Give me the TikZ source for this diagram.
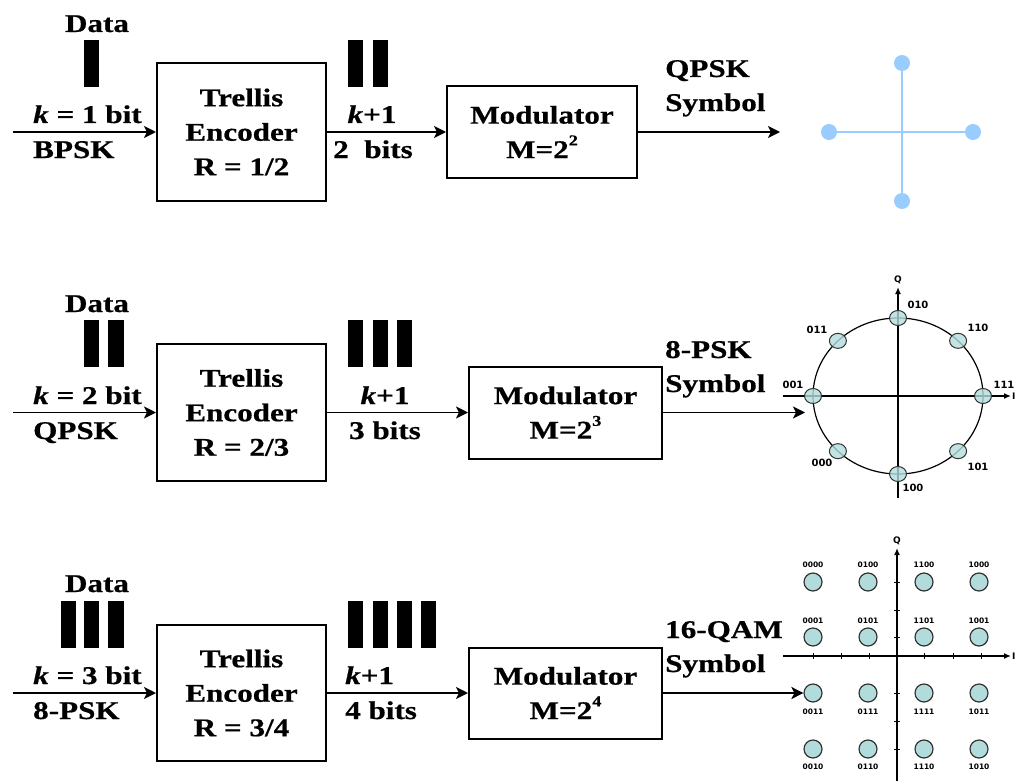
\documentclass[tikz,border=0pt]{standalone}
\usepackage{fontspec}
\setmainfont{Liberation Serif}[FakeStretch=1.22,FakeBold=0.6]
\newfontfamily\lblfont{DejaVu Sans}
\usetikzlibrary{arrows.meta}
\definecolor{qpskblue}{RGB}{153,204,255}
\definecolor{ptfill}{RGB}{178,220,220}
\definecolor{ptline}{RGB}{50,50,50}
\newcommand{\supx}[1]{\raisebox{0.5em}{\fontsize{15}{15}\selectfont #1}}
\begin{document}
\begin{tikzpicture}[x=1pt,y=-1pt,
  every node/.style={font=\bfseries\fontsize{25.5}{34.5}\selectfont, inner sep=0pt},
  box/.style={draw, line width=2pt, align=center},
  arr/.style={line width=1.9pt, -{Stealth[length=12pt,width=12pt,inset=3pt]}},
  lbl/.style={anchor=base west},
  ctr/.style={anchor=base},
  axis/.style={line width=1.5pt, -{Latex[length=7pt,width=6pt]}},
  psklbl/.style={font=\lblfont\bfseries\fontsize{10}{10}\selectfont},
  qamlbl/.style={font=\lblfont\bfseries\fontsize{7.5}{7.5}\selectfont},
  axlbl/.style={font=\lblfont\bfseries\fontsize{9}{9}\selectfont},
  qpt/.style={circle, draw=ptline, fill=ptfill, line width=1.2pt, minimum size=18pt, inner sep=0pt}
]
\useasboundingbox (0,0) rectangle (1019,781);

% ---------------- Row 1 ----------------
\node[ctr] (d1) at (97,32) {Data};
\fill (84,40) rectangle (99,87);
\node[box, minimum width=169pt, minimum height=138pt] (enc1) at (241.5,132) {Trellis\\Encoder\\R = 1/2};
\node[box, minimum width=190pt, minimum height=92pt] (mod1) at (542,132) {Modulator\\M=2\supx{2}};
\coordinate (in1) at (13,132);
\coordinate (out1) at (780,132);
\draw[arr] (in1) -- (enc1.west);
\draw[arr] (enc1.east) -- (mod1.west);
\draw[arr] (mod1.east) -- (out1);
\node[lbl] (k1) at (33,123) {\textit{k} = 1 bit};
\node[lbl] (m1) at (33,158) {BPSK};
\fill (348,40) rectangle (363,87);
\fill (373,40) rectangle (388,87);
\node[ctr] (kp1) at (372,123) {\textit{k}+1};
\node[ctr] (b1) at (373,158) {2\ \ bits};
\node[lbl] (s1a) at (665,77) {QPSK};
\node[lbl] (s1b) at (665,111) {Symbol};
% QPSK constellation
\draw[qpskblue, line width=2.5pt] (829,132) -- (973,132);
\draw[qpskblue, line width=2.5pt] (902,63) -- (902,201);
\fill[qpskblue] (829,132) circle[radius=8pt] (973,132) circle[radius=8pt]
  (902,63) circle[radius=8pt] (902,201) circle[radius=8pt];

% ---------------- Row 2 ----------------
\node[ctr] (d2) at (97,312) {Data};
\fill (84,320) rectangle (99,367);
\fill (108,320) rectangle (124,367);
\node[box, minimum width=169pt, minimum height=137pt] (enc2) at (241.5,412.5) {Trellis\\Encoder\\R = 2/3};
\node[box, minimum width=193pt, minimum height=92pt] (mod2) at (565.5,412.5) {Modulator\\M=2\supx{3}};
\coordinate (in2) at (13,412.5);
\coordinate (out2) at (805,412.5);
\draw[arr] (in2) -- (enc2.west);
\draw[arr] (enc2.east) -- (mod2.west);
\draw[arr] (mod2.east) -- (out2);
\node[lbl] (k2) at (33,404) {\textit{k} = 2 bit};
\node[lbl] (m2) at (33,439) {QPSK};
\fill (348,320) rectangle (363,367);
\fill (373,320) rectangle (388,367);
\fill (397,320) rectangle (412,367);
\node[ctr] (kp2) at (385,404) {\textit{k}+1};
\node[ctr] (b2) at (385,439) {3 bits};
\node[lbl] (s2a) at (665,358) {8-PSK};
\node[lbl] (s2b) at (665,392) {Symbol};
% 8-PSK constellation
\draw[line width=1.2pt] (898,396) ellipse [x radius=85pt, y radius=78pt];
\draw[axis] (898,498) -- (898,287);
\draw[axis] (783,396) -- (1011,396);
\node[axlbl, anchor=south] (q8) at (898,284) {Q};
\node[axlbl, anchor=west] (i8) at (1012,396) {I};
\foreach \a in {0,45,...,315}{
  \filldraw[draw=ptline, fill=ptfill, fill opacity=0.8, line width=1pt]
    ({898+85*cos(\a)},{396-78*sin(\a)}) ellipse [x radius=8.5pt, y radius=7.5pt];
}
\node[psklbl] (l010) at (918,305) {010};
\node[psklbl] (l011) at (817,330) {011};
\node[psklbl] (l110) at (978,328) {110};
\node[psklbl] (l001) at (793,385) {001};
\node[psklbl] (l111) at (1004,385) {111};
\node[psklbl] (l000) at (822,463) {000};
\node[psklbl] (l101) at (978,467) {101};
\node[psklbl] (l100) at (913,488) {100};

% ---------------- Row 3 ----------------
\node[ctr] (d3) at (97,592) {Data};
\fill (61,601) rectangle (76,648);
\fill (84,601) rectangle (99,648);
\fill (108,601) rectangle (124,648);
\node[box, minimum width=169pt, minimum height=136pt] (enc3) at (241.5,693) {Trellis\\Encoder\\R = 3/4};
\node[box, minimum width=193pt, minimum height=91pt] (mod3) at (565.5,693) {Modulator\\M=2\supx{4}};
\coordinate (in3) at (13,693);
\draw[arr] (in3) -- (enc3.west);
\draw[arr] (enc3.east) -- (mod3.west);
\node[lbl] (k3) at (33,684) {\textit{k} = 3 bit};
\node[lbl] (m3) at (33,719) {8-PSK};
\fill (348,601) rectangle (363,648);
\fill (373,601) rectangle (388,648);
\fill (397,601) rectangle (412,648);
\fill (421,601) rectangle (436,648);
\node[lbl] (kp3) at (345,684) {\textit{k}+1};
\node[lbl] (b3) at (345,719) {4 bits};
\node[lbl] (s3a) at (665,638) {16-QAM};
\node[lbl] (s3b) at (665,672) {Symbol};
% 16-QAM constellation
\draw[axis] (897,781) -- (897,548);
\draw[axis] (783,656) -- (1011,656);
\node[axlbl, anchor=south] (q16) at (897,545) {Q};
\node[axlbl, anchor=west] (i16) at (1012,656) {I};
\foreach \t in {813,841,869,924,953,981}{
  \draw[line width=0.8pt] (\t,653) -- (\t,659);
}
\foreach \t in {582,610,637,693,721,749}{
  \draw[line width=0.8pt] (894,\t) -- (900,\t);
}
\foreach \c/\x in {1/813,2/868,3/924,4/979}{
  \foreach \r/\y in {1/582,2/637,3/693,4/749}{
    \node[qpt] (p\r\c) at (\x,\y) {};
  }
}
\foreach \c/\x/\a/\b/\cc/\d in {1/813/0000/0001/0011/0010, 2/868/0100/0101/0111/0110,
                                3/924/1100/1101/1111/1110, 4/979/1000/1001/1011/1010}{
  \node[qamlbl] (ql1\c) at (\x,565) {\a};
  \node[qamlbl] (ql2\c) at (\x,621) {\b};
  \node[qamlbl] (ql3\c) at (\x,712) {\cc};
  \node[qamlbl] (ql4\c) at (\x,767) {\d};
}
\draw[arr] (mod3.east) -- (p31.west);
\end{tikzpicture}
\end{document}
